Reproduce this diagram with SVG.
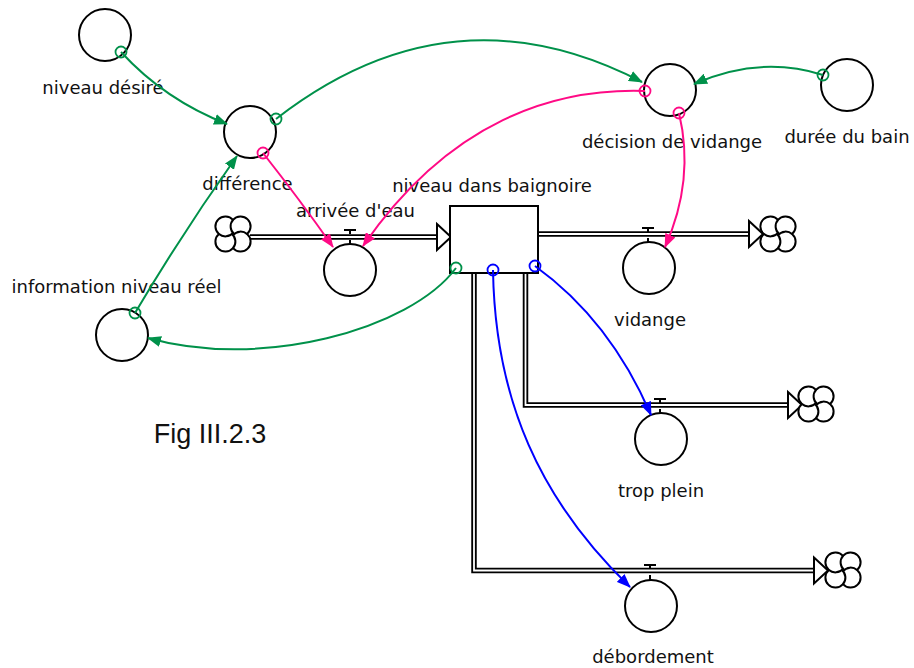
<svg xmlns="http://www.w3.org/2000/svg" width="914" height="668" viewBox="0 0 914 668">
  <style>
    .aux { fill: #fff; stroke: #000; stroke-width: 2; }
    .stock { fill: #fff; stroke: #000; stroke-width: 2; }
    .pipe-out { fill: none; stroke: #000; stroke-width: 5.5; }
    .pipe-in { fill: none; stroke: #fff; stroke-width: 1.8; }
    .head { fill: #fff; stroke: #000; stroke-width: 2; stroke-linejoin: miter; }
    .valve { fill: none; stroke: #000; stroke-width: 2; }
    .cloud { fill: #fff; stroke: #000; stroke-width: 2; }
    .curl { fill: none; stroke: #000; stroke-width: 2; }
    .lbl { font-family: "DejaVu Sans", Verdana, sans-serif; font-size: 18px; fill: #111; text-anchor: middle; }
    .fig { font-family: "Liberation Sans", Arial, sans-serif; font-size: 27px; fill: #111; text-anchor: middle; }
    .g { fill: none; stroke: #00914a; stroke-width: 2; }
    .p { fill: none; stroke: #ff0a85; stroke-width: 2; }
    .b { fill: none; stroke: #0000ff; stroke-width: 2; }
    .og { fill: none; stroke: #00914a; stroke-width: 1.8; }
    .op { fill: none; stroke: #ff0a85; stroke-width: 1.8; }
    .ob { fill: none; stroke: #0000ff; stroke-width: 1.8; }
  </style>
  <defs>
    <marker id="ag" viewBox="0 0 14 11" refX="13" refY="5.5" markerWidth="14" markerHeight="11" markerUnits="userSpaceOnUse" orient="auto">
      <path d="M0,0 L14,5.5 L0,11 z" fill="#00914a"/>
    </marker>
    <marker id="ap" viewBox="0 0 14 11" refX="13" refY="5.5" markerWidth="14" markerHeight="11" markerUnits="userSpaceOnUse" orient="auto">
      <path d="M0,0 L14,5.5 L0,11 z" fill="#ff0a85"/>
    </marker>
    <marker id="ab" viewBox="0 0 14 11" refX="13" refY="5.5" markerWidth="14" markerHeight="11" markerUnits="userSpaceOnUse" orient="auto">
      <path d="M0,0 L14,5.5 L0,11 z" fill="#0000ff"/>
    </marker>
    <!-- source / sink cloud: four lobes with pinwheel curls -->
    <g id="cloud">
      <path class="cloud" d="M0,-14.1 A10,10 0 1 1 14.1,0 A10,10 0 1 1 0,14.1 A10,10 0 1 1 -14.1,0 A10,10 0 1 1 0,-14.1 z"/>
      <path class="curl" d="M0,-14.1 A10,10 0 0 0 1.1,0"/>
      <path class="curl" d="M14.1,0 A10,10 0 0 0 0,1.1"/>
      <path class="curl" d="M0,14.1 A10,10 0 0 0 -1.1,0"/>
      <path class="curl" d="M-14.1,0 A10,10 0 0 0 0,-1.1"/>
    </g>
    <!-- hollow flow arrowhead, tip at origin pointing right -->
    <path id="flowhead" class="head" d="M-14,-13 L0,0 L-14,13 z"/>
  </defs>

  <!-- flows (pipes) -->
  <g id="flows">
    <!-- arrivée d'eau -->
    <g id="flow-arrivee">
      <path class="pipe-out" d="M250,237 H437"/>
      <path class="pipe-in" d="M249,237 H438"/>
      <use href="#flowhead" x="451" y="237"/>
      <use href="#cloud" x="233" y="234"/>
      <path class="valve" d="M344,230 H356 M350,230 V234 M350,240 V244"/>
    </g>
    <!-- vidange -->
    <g id="flow-vidange">
      <path class="pipe-out" d="M539,234 H749"/>
      <path class="pipe-in" d="M539,234 H750"/>
      <use href="#flowhead" x="763" y="234"/>
      <use href="#cloud" x="778" y="234"/>
      <path class="valve" d="M642,228 H654 M648,228 V232 M648,238 V242"/>
    </g>
    <!-- trop plein -->
    <g id="flow-trop-plein">
      <path class="pipe-out" d="M525.5,273 V405 H788"/>
      <path class="pipe-in" d="M525.5,274 V405 H789"/>
      <use href="#flowhead" x="802" y="405"/>
      <use href="#cloud" x="816" y="404"/>
      <path class="valve" d="M654,399 H666 M660,399 V403 M660,409 V413"/>
    </g>
    <!-- débordement -->
    <g id="flow-debordement">
      <path class="pipe-out" d="M474,273 V570.5 H814"/>
      <path class="pipe-in" d="M474,274 V570.5 H815"/>
      <use href="#flowhead" x="828" y="570.5"/>
      <use href="#cloud" x="843" y="570"/>
      <path class="valve" d="M644,565 H656 M650,565 V569 M650,575 V580"/>
    </g>
  </g>

  <!-- stock -->
  <g id="niveau-dans-baignoire">
    <rect class="stock" x="450" y="206" width="88" height="67"/>
    <text class="lbl" x="492" y="192">niveau dans baignoire</text>
  </g>

  <!-- auxiliaries / rates -->
  <g id="niveau-desire">
    <circle class="aux" cx="105" cy="35" r="26"/>
    <text class="lbl" x="103" y="94">niveau désiré</text>
  </g>
  <g id="difference">
    <circle class="aux" cx="250" cy="132" r="26"/>
    <text class="lbl" x="247.5" y="190">différence</text>
  </g>
  <g id="decision-de-vidange">
    <circle class="aux" cx="670" cy="90" r="26"/>
    <text class="lbl" x="672" y="148">décision de vidange</text>
  </g>
  <g id="duree-du-bain">
    <circle class="aux" cx="847" cy="85" r="26"/>
    <text class="lbl" x="847" y="143">durée du bain</text>
  </g>
  <g id="information-niveau-reel">
    <circle class="aux" cx="122" cy="335" r="26"/>
    <text class="lbl" x="116.5" y="293">information niveau réel</text>
  </g>
  <g id="arrivee-d-eau">
    <circle class="aux" cx="350" cy="270" r="26"/>
    <text class="lbl" x="355.5" y="217">arrivée d'eau</text>
  </g>
  <g id="vidange">
    <circle class="aux" cx="649" cy="268" r="26"/>
    <text class="lbl" x="650" y="326">vidange</text>
  </g>
  <g id="trop-plein">
    <circle class="aux" cx="661" cy="439" r="26"/>
    <text class="lbl" x="661" y="497">trop plein</text>
  </g>
  <g id="debordement">
    <circle class="aux" cx="651" cy="606" r="26"/>
    <text class="lbl" x="653" y="663">débordement</text>
  </g>

  <!-- information links -->
  <g id="connectors">
    <path class="g" d="M121,52 Q165,100 227,124" marker-end="url(#ag)"/>
    <circle class="og" cx="121" cy="52" r="5.5"/>
    <path class="g" d="M276,119 Q451,-17 642,82" marker-end="url(#ag)"/>
    <circle class="og" cx="276" cy="119" r="5.5"/>
    <path class="g" d="M823,75 Q760,55 694,84" marker-end="url(#ag)"/>
    <circle class="og" cx="823" cy="75" r="5.5"/>
    <path class="g" d="M135,313 Q183,232 237,156" marker-end="url(#ag)"/>
    <circle class="og" cx="135" cy="313" r="5.5"/>
    <path class="g" d="M456,268 C410,330 260,370 148,338" marker-end="url(#ag)"/>
    <circle class="og" cx="456" cy="268" r="5.5"/>

    <path class="p" d="M263,153 Q300,200 333,247" marker-end="url(#ap)"/>
    <circle class="op" cx="263" cy="153" r="5.5"/>
    <path class="p" d="M645,91 C555,88 450,120 363,246" marker-end="url(#ap)"/>
    <circle class="op" cx="645" cy="91" r="5.5"/>
    <path class="p" d="M679,113 Q695,180 665,247" marker-end="url(#ap)"/>
    <circle class="op" cx="679" cy="113" r="5.5"/>

    <path class="b" d="M535,266 Q610,320 651,415" marker-end="url(#ab)"/>
    <circle class="ob" cx="535" cy="266" r="5.5"/>
    <path class="b" d="M493,270 C495,400 540,500 630,587" marker-end="url(#ab)"/>
    <circle class="ob" cx="493" cy="270" r="5.5"/>
  </g>

  <text class="fig" x="210" y="443">Fig III.2.3</text>
</svg>
